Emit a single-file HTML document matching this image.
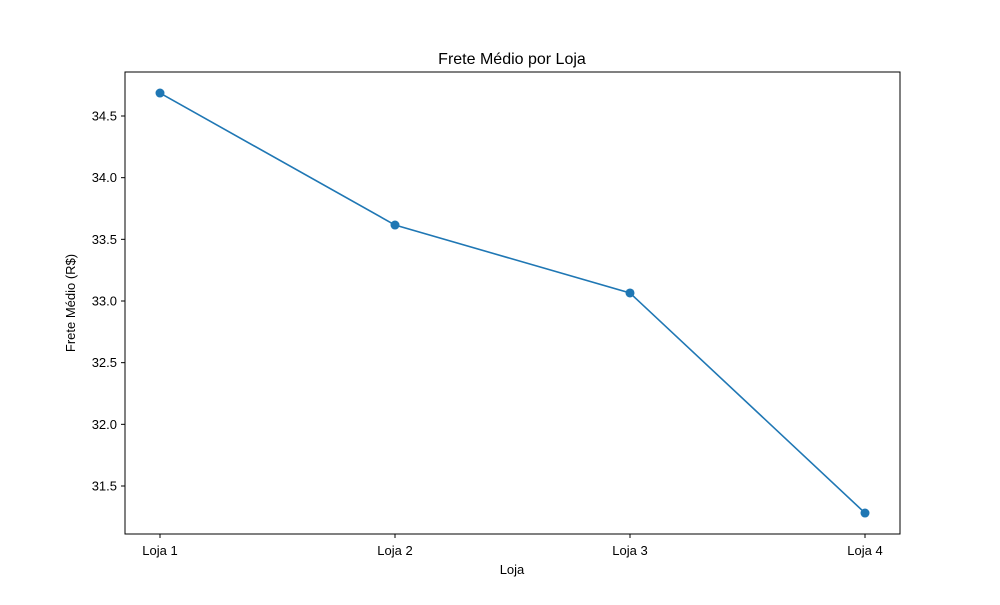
<!DOCTYPE html>
<html><head><meta charset="utf-8"><style>
body{margin:0;background:#fff;}
svg text{font-family:"Liberation Sans","DejaVu Sans",sans-serif;fill:#000;}
</style></head><body>
<svg id="chart" width="1000" height="600" xmlns="http://www.w3.org/2000/svg">
<rect width="1000" height="600" fill="#fff"/>
<text x="512" y="64" font-size="16" text-anchor="middle">Frete Médio por Loja</text>
<text x="512" y="574" font-size="13" text-anchor="middle">Loja</text>
<text transform="translate(75,303) rotate(-90)" font-size="13" text-anchor="middle">Frete Médio (R$)</text>
<g id="ticks"></g>
<g id="series"></g>
<rect x="125" y="72" width="775" height="462" fill="none" stroke="#000" stroke-width="1"/>
</svg>
<script>
const categories = ["Loja 1","Loja 2","Loja 3","Loja 4"];
const values = [34.686, 33.616, 33.065, 31.281];
const yTicks = [31.5, 32.0, 32.5, 33.0, 33.5, 34.0, 34.5];
const yTickLabels = ["31.5","32.0","32.5","33.0","33.5","34.0","34.5"];

const NS = "http://www.w3.org/2000/svg";
function xScale(i){ return 160 + i * (865 - 160) / (categories.length - 1); }
function yScale(v){ return 116 + (34.5 - v) * (370 / 3.0); }
function mk(tag, attrs, parent){
  const e = document.createElementNS(NS, tag);
  for (const k in attrs) e.setAttribute(k, attrs[k]);
  parent.appendChild(e);
  return e;
}
const tg = document.getElementById("ticks");
yTicks.forEach((t, i) => {
  const y = yScale(t);
  const l = mk("line", {x1:121, x2:125, y1:y, y2:y, stroke:"#000"}, tg);
  
  
  const tx = mk("text", {x:117, y:y+4.5, "font-size":13, "text-anchor":"end"}, tg);
  tx.textContent = yTickLabels[i];
  
  
});
categories.forEach((c, i) => {
  const x = xScale(i);
  const l = mk("line", {x1:x, x2:x, y1:534, y2:538, stroke:"#000"}, tg);
  
  
  const tx = mk("text", {x:x, y:555, "font-size":13, "text-anchor":"middle"}, tg);
  tx.textContent = c;
  
  
});
const sg = document.getElementById("series");
const pts = values.map((v, i) => xScale(i) + "," + yScale(v)).join(" ");
const pl = mk("polyline", {points:pts, fill:"none", stroke:"#1f77b4", "stroke-width":1.6}, sg);


values.forEach((v, i) => {
  const c = mk("circle", {cx:xScale(i), cy:yScale(v), r:4.5, fill:"#1f77b4"}, sg);
  
  
});
</script>
</body></html>
